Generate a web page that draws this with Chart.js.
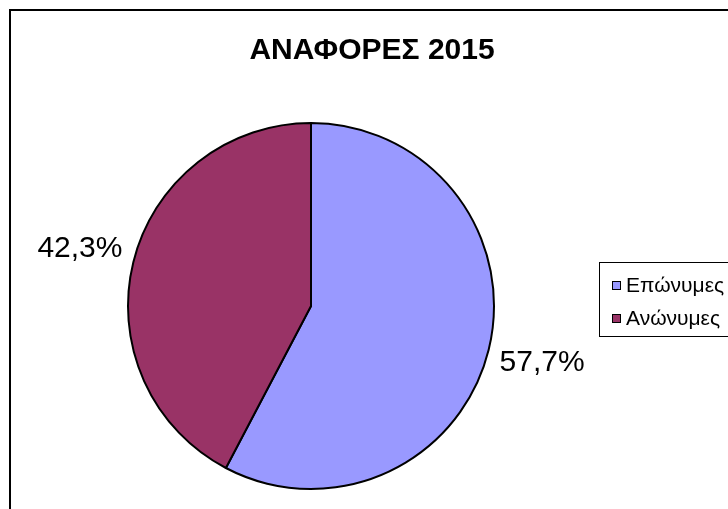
<!DOCTYPE html>
<html>
<head>
<meta charset="utf-8">
<script src="https://cdn.jsdelivr.net/npm/chart.js@4"></script>
<style>
  html, body { margin: 0; padding: 0; background: #fff; overflow: hidden; }
  #frame { position: absolute; left: 9px; top: 9px; width: 760px; height: 560px; border: 2px solid #000; }
  #wrap { position: absolute; left: 0; top: 0; width: 728px; height: 509px; }
</style>
</head>
<body>
<div id="frame"></div>
<div id="wrap"><canvas id="pie"></canvas></div>
<script>
const title = 'ΑΝΑΦΟΡΕΣ 2015';
const labels = ['Επώνυμες', 'Ανώνυμες'];
const values = [57.7, 42.3];
const colors = ['#9999FF', '#993366'];

// percent labels, Excel style, just outside each slice
const pctLabels = {
  id: 'pctLabels',
  afterDraw(chart) {
    const ctx = chart.ctx;
    const meta = chart.getDatasetMeta(0);
    const total = values.reduce((a, b) => a + b, 0);
    ctx.save();
    ctx.font = '30px "Liberation Sans", Arial, sans-serif';
    ctx.fillStyle = '#000';
    ctx.textAlign = 'center';
    ctx.textBaseline = 'middle';
    meta.data.forEach((arc, i) => {
      const mid = (arc.startAngle + arc.endAngle) / 2;
      const r = arc.outerRadius + 55;
      const x = arc.x + Math.cos(mid) * r;
      const y = arc.y + Math.sin(mid) * r;
      const txt = (values[i] / total * 100).toFixed(1).replace('.', ',') + '%';
      ctx.fillText(txt, x, y);
    });

    // title
    ctx.font = 'bold 30px "Liberation Sans", Arial, sans-serif';
    ctx.textBaseline = 'alphabetic';
    ctx.fillText(title, 372, 59);

    // legend box
    ctx.strokeStyle = '#000';
    ctx.lineWidth = 1;
    ctx.strokeRect(599.5, 262.5, 200, 74);
    ctx.font = '21px "Liberation Sans", Arial, sans-serif';
    ctx.textAlign = 'left';
    ctx.textBaseline = 'middle';
    labels.forEach((lab, i) => {
      const y = 285 + i * 33;
      ctx.fillStyle = colors[i];
      ctx.fillRect(612, y - 4, 9, 9);
      ctx.strokeRect(612.5, y - 3.5, 8, 8);
      ctx.fillStyle = '#000';
      ctx.fillText(lab, 626, y + 1);
    });
    ctx.restore();
  }
};

new Chart(document.getElementById('pie'), {
  type: 'pie',
  data: {
    labels: labels,
    datasets: [{
      data: values,
      backgroundColor: colors,
      borderColor: '#000',
      borderWidth: 2
    }]
  },
  options: {
    responsive: true,
    maintainAspectRatio: false,
    animation: false,
    layout: { padding: { left: 127, right: 233, top: 122, bottom: 19 } },
    plugins: {
      legend: { display: false },
      title: { display: false },
      tooltip: { enabled: false }
    }
  },
  plugins: [pctLabels]
});
</script>
</body>
</html>
